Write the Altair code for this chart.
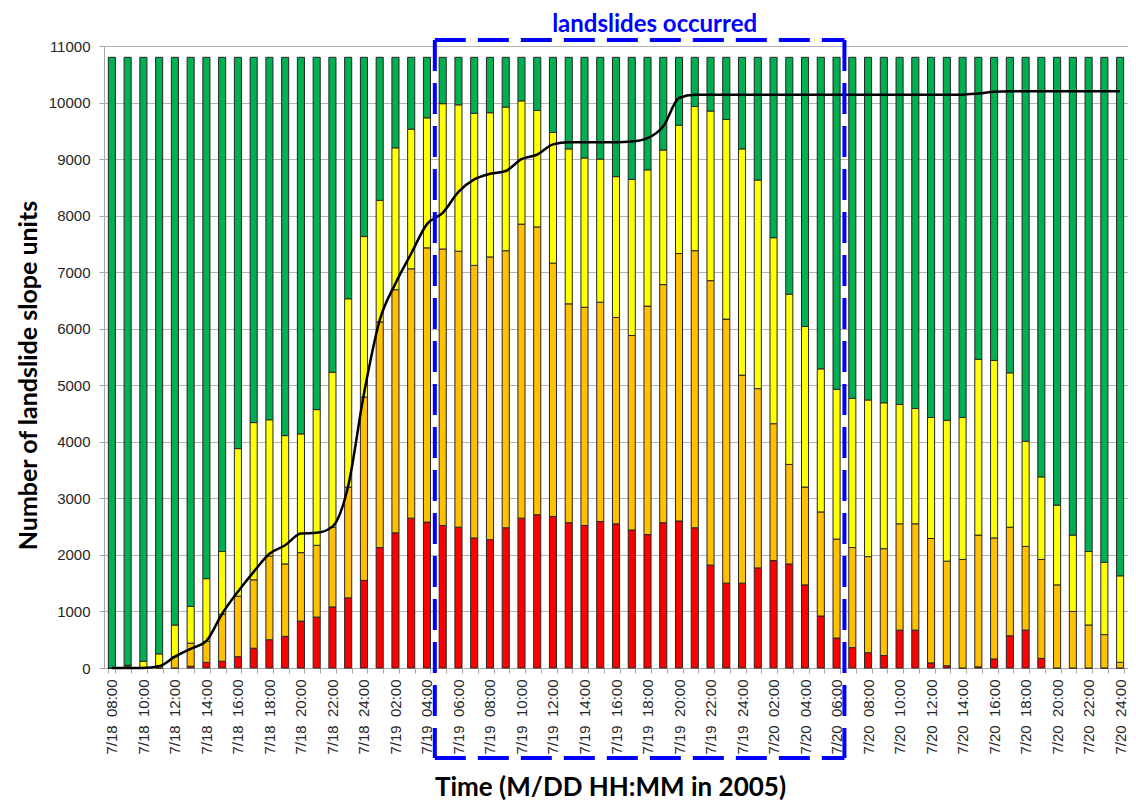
import altair as alt
import pandas as pd

# ---------------- data ----------------
SEP = " \u00a0"  # date/time separator (two visible spaces)
labels = ([f"7/18{SEP}{h:02d}:00" for h in range(8, 25)]
          + [f"7/19{SEP}{h:02d}:00" for h in range(1, 25)]
          + [f"7/20{SEP}{h:02d}:00" for h in range(1, 25)])

red = [0, 0, 0, 0, 0, 30, 100, 120, 200, 350,
       500, 560, 830, 900, 1080, 1240, 1550, 2130, 2390, 2650,
       2580, 2520, 2490, 2300, 2270, 2480, 2650, 2710, 2680, 2570,
       2520, 2590, 2550, 2440, 2360, 2570, 2600, 2480, 1820, 1500,
       1500, 1770, 1900, 1840, 1470, 920, 530, 360, 270, 220,
       670, 670, 90, 40, 0, 20, 160, 570, 670, 170,
       0, 0, 0, 0, 0]

orange = [0, 30, 10, 40, 200, 410, 370, 830, 1070, 1210,
          1480, 1280, 1210, 1270, 1410, 1960, 3240, 3990, 4300, 4410,
          4850, 4890, 4880, 4820, 5000, 4900, 5200, 5090, 4480, 3870,
          3860, 3880, 3650, 3440, 4040, 4210, 4730, 4900, 5030, 4670,
          3680, 3170, 2420, 1760, 1730, 1840, 1750, 1770, 1700, 1890,
          1880, 1880, 2200, 1850, 1920, 2330, 2140, 1920, 1480, 1750,
          1470, 1000, 760, 590, 100]

yellow = [0, 20, 110, 210, 560, 650, 1110, 1110, 2610, 2780,
          2410, 2270, 2100, 2400, 2740, 3330, 2840, 2150, 2510, 2470,
          2300, 2570, 2590, 2690, 2550, 2540, 2180, 2060, 2310, 2740,
          2640, 2530, 2490, 2760, 2410, 2380, 2270, 2550, 3000, 3530,
          4000, 3690, 3290, 3010, 2840, 2530, 2650, 2640, 2770, 2580,
          2110, 2040, 2140, 2490, 2510, 3110, 3140, 2730, 1860, 1460,
          1410, 1350, 1300, 1280, 1530]

green = [10800, 10750, 10680, 10550, 10040, 9710, 9220, 8740, 6920, 6460,
         6410, 6690, 6660, 6230, 5570, 4270, 3170, 2530, 1600, 1270,
         1070, 820, 840, 990, 980, 880, 770, 940, 1330, 1620,
         1780, 1800, 2110, 2160, 1990, 1640, 1200, 870, 950, 1100,
         1620, 2170, 3190, 4190, 4760, 5510, 5870, 6030, 6060, 6110,
         6140, 6210, 6370, 6420, 6370, 5340, 5360, 5580, 6790, 7420,
         7920, 8450, 8740, 8930, 9170]

landslides = [0, 0, 0, 30, 200, 340, 480, 960, 1350, 1700,
              2020, 2170, 2380, 2390, 2500, 3220, 4850, 6150, 6800, 7330,
              7850, 8050, 8420, 8640, 8740, 8790, 9000, 9080, 9260, 9300,
              9300, 9300, 9300, 9310, 9370, 9580, 10080, 10140, 10140, 10140,
              10140, 10140, 10140, 10140, 10140, 10140, 10140, 10140, 10140, 10140,
              10140, 10140, 10140, 10140, 10140, 10160, 10190, 10200, 10200, 10200,
              10200, 10200, 10200, 10200, 10200]

levels = ["red", "orange", "yellow", "green"]
level_colors = ["#FF0000", "#FFC000", "#FFFF00", "#00B050"]

box_start = f"7/19{SEP}05:00"
box_end = f"7/20{SEP}06:00"
box_text = "landslides occurred"

# ---------------- tables ----------------
series = [red, orange, yellow, green]
rows = []
for i, lab in enumerate(labels):
    for k, name in enumerate(levels):
        rows.append({"time": lab, "level": name, "k": k, "units": series[k][i]})
bars_df = pd.DataFrame(rows)
line_df = pd.DataFrame({"time": labels, "landslides": landslides})

i0 = labels.index(box_start) - 0.5
i1 = labels.index(box_end) + 0.5

# ---------------- styling ----------------
W, H = 1024, 622
PI = 0.55
xscale = alt.Scale(type="band", domain=labels, paddingInner=PI, paddingOuter=PI / 2)
yscale = alt.Scale(domain=[0, 11000], nice=False)
idx_scale = alt.Scale(domain=[-0.5, len(labels) - 0.5], nice=False, zero=False)

x_axis = alt.Axis(
    title="Time (M/DD HH:MM in 2005)",
    labelAngle=-90,
    labelExpr="toNumber(substring(datum.value, 6, 8)) % 2 == 0 ? datum.value : ''",
    labelOverlap=False,
    tickBand="extent",
    tickSize=5, tickColor="#a6a6a6", domainColor="#a6a6a6",
    labelFont="Liberation Sans", labelFontSize=15, labelColor="#262626",
    labelPadding=6, grid=False,
    titleFont="Lato", titleFontSize=26, titleFontWeight="bold", titleColor="#000000",
    titleX=506, titleY=127, titleBaseline="alphabetic", titleAlign="center",
)
y_axis = alt.Axis(
    title="Number of landslide slope units",
    values=list(range(0, 11001, 1000)), format="d",
    grid=True, gridColor="#b3b3b3", gridWidth=1,
    tickSize=5, tickColor="#a6a6a6", domainColor="#a6a6a6",
    labelFont="Liberation Sans", labelFontSize=15, labelColor="#262626", labelPadding=9,
    titleFont="Lato", titleFontSize=25, titleFontWeight="bold", titleColor="#000000",
    titleX=-76, titleY=329, titleAngle=-90, titleBaseline="middle", titleAlign="center",
)

bars = alt.Chart(bars_df).mark_bar(stroke="#262626", strokeWidth=1).encode(
    x=alt.X("time:N", scale=xscale, axis=x_axis),
    y=alt.Y("units:Q", stack="zero", scale=yscale, axis=y_axis),
    color=alt.Color("level:N", scale=alt.Scale(domain=levels, range=level_colors), legend=None),
    order=alt.Order("k:Q"),
)

line = alt.Chart(line_df).mark_line(color="#000000", strokeWidth=2.5, interpolate="monotone").encode(
    x=alt.X("time:N", scale=xscale, axis=x_axis),
    y=alt.Y("landslides:Q", scale=yscale, axis=y_axis),
)

BOX_TOP, BOX_BOTTOM = -6, 712
box_df = pd.DataFrame({
    "x": [i0, i0, i0, i1],
    "x2": [i1, i1, i0, i1],
    "py": [BOX_TOP, BOX_BOTTOM, BOX_TOP, BOX_TOP],
    "py2": [BOX_TOP, BOX_BOTTOM, BOX_BOTTOM, BOX_BOTTOM],
})
box = alt.Chart(box_df).mark_rule(color="#0000FF", strokeWidth=4, strokeDash=[31, 12]).encode(
    x=alt.X("x:Q", scale=idx_scale, axis=None),
    x2="x2:Q",
    y=alt.Y("py:Q", scale=None),
    y2="py2:Q",
)

text_df = pd.DataFrame({"x": [(i0 + i1) / 2], "t": [box_text]})
box_label = alt.Chart(text_df).mark_text(
    font="Lato", fontSize=24, fontWeight="bold", color="#0000FF",
    baseline="alphabetic", align="center", dx=15,
).encode(
    x=alt.X("x:Q", scale=idx_scale, axis=None),
    y=alt.value(-14),
    text="t:N",
)

main = alt.layer(bars, line)
annot = alt.layer(box, box_label)

chart = alt.layer(main, annot).resolve_scale(x="independent").properties(
    width=W, height=H,
    autosize=alt.AutoSizeParams(type="none"),
    padding={"left": 96, "top": 38, "right": 0, "bottom": 132},
    background="white",
).configure_view(stroke=None)

chart.save("out.html", embed_options={"renderer": "svg", "actions": False})
